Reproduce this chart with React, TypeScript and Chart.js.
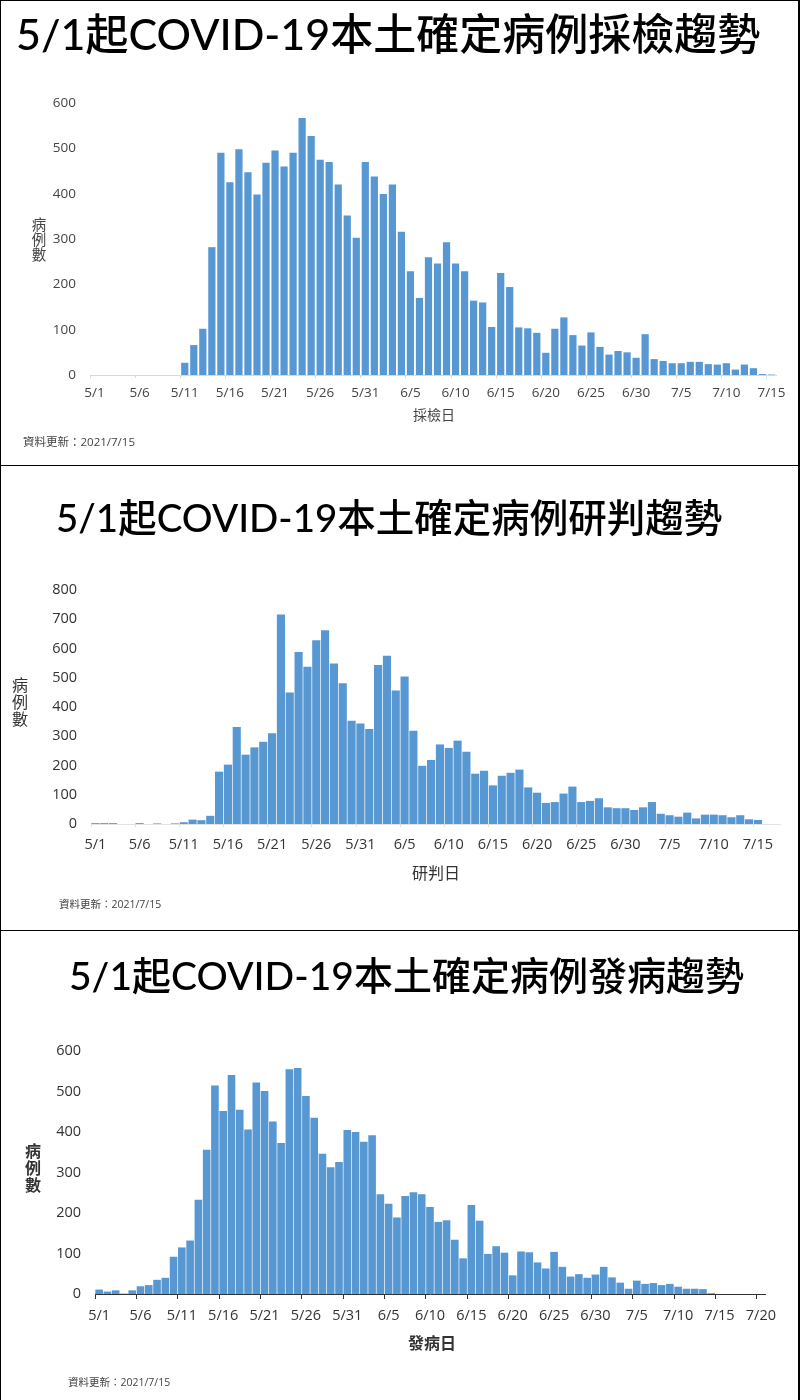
import React, { useEffect, useRef } from 'react';
import { Chart, registerables } from 'chart.js';

Chart.register(...registerables);

const dates = [
  '5/1', '5/2', '5/3', '5/4', '5/5', '5/6', '5/7', '5/8', '5/9', '5/10',
  '5/11', '5/12', '5/13', '5/14', '5/15', '5/16', '5/17', '5/18', '5/19', '5/20',
  '5/21', '5/22', '5/23', '5/24', '5/25', '5/26', '5/27', '5/28', '5/29', '5/30', '5/31',
  '6/1', '6/2', '6/3', '6/4', '6/5', '6/6', '6/7', '6/8', '6/9', '6/10',
  '6/11', '6/12', '6/13', '6/14', '6/15', '6/16', '6/17', '6/18', '6/19', '6/20',
  '6/21', '6/22', '6/23', '6/24', '6/25', '6/26', '6/27', '6/28', '6/29', '6/30',
  '7/1', '7/2', '7/3', '7/4', '7/5', '7/6', '7/7', '7/8', '7/9', '7/10',
  '7/11', '7/12', '7/13', '7/14', '7/15', '7/16', '7/17', '7/18', '7/19', '7/20',
];

// 採檢日
const samplingCases = [
  0, 0, 0, 0, 0, 0, 0, 0, 0, 0,
  27, 66, 102, 282, 490, 425, 498, 447, 398, 468,
  495, 460, 490, 567, 527, 475, 470, 420, 352, 303, 470,
  438, 399, 420, 316, 229, 170, 260, 246, 293, 246,
  229, 164, 160, 106, 225, 194, 105, 103, 93, 49,
  102, 127, 88, 65, 94, 62, 45, 53, 50, 38,
  90, 35, 31, 26, 26, 29, 29, 24, 23, 26,
  12, 23, 15, 2, 1,
];

// 研判日
const reviewCases = [
  3, 3, 3, 0, 0, 3, 0, 2, 0, 2,
  6, 15, 13, 28, 179, 203, 332, 237, 262, 281,
  310, 716, 450, 588, 538, 628, 662, 549, 481, 353, 344,
  325, 544, 575, 456, 504, 319, 199, 219, 272, 260,
  285, 247, 172, 182, 132, 165, 175, 186, 125, 107,
  72, 75, 104, 128, 75, 79, 88, 57, 54, 54,
  48, 57, 75, 35, 30, 25, 39, 19, 32, 32,
  30, 23, 30, 16, 14, 0, 0,
];

// 發病日
const onsetCases = [
  11, 6, 9, 1, 9, 19, 22, 35, 40, 92,
  115, 132, 233, 356, 515, 452, 541, 455, 406, 522,
  501, 426, 373, 555, 558, 489, 435, 346, 313, 326, 405,
  400, 376, 392, 246, 223, 189, 242, 251, 246, 215,
  178, 182, 134, 88, 220, 181, 99, 118, 102, 46,
  105, 103, 78, 63, 104, 67, 43, 49, 40, 48,
  67, 41, 28, 13, 33, 25, 27, 22, 25, 18,
  13, 13, 12, 2, 0, 0, 0, 0, 0, 0,
];

const CJK = '"Noto Sans CJK TC", sans-serif';
const TEXT_FONT = `"Open Sans", ${CJK}`;
const TITLE_FONT = `Lato, ${CJK}`;
const BAR_COLOR = '#5797d2';

const panels = [
  {
    top: 0, height: 465, values: samplingCases, yMax: 600, yStep: 100, barPct: 0.8,
    axisLeft: 90, axisRight: 776, axisTop: 103, axisBottom: 375,
    tickFont: 13.5, tickPad: 7, tickLen: 3, axisColor: '#d9d9d9', textColor: '#444',
    title: '5/1起COVID-19本土確定病例採檢趨勢', titleSize: 43, titleX: 15, titleY: 30,
    xTitle: '採檢日', xTitleX: 433, xTitleY: 413, xTitleSize: 14, xTitleWeight: 400,
    yTitleX: 38, yTitleY: 238, yTitleSize: 14.5, footX: 22, footY: 440, footSize: 11.5,
  },
  {
    top: 465, height: 465, values: reviewCases, yMax: 800, yStep: 100, barPct: 0.92,
    axisLeft: 91, axisRight: 780, axisTop: 125, axisBottom: 359,
    tickFont: 14.5, tickPad: 9, tickLen: 3, axisColor: '#e3e3e3', textColor: '#333',
    title: '5/1起COVID-19本土確定病例研判趨勢', titleSize: 38.5, titleX: 55, titleY: 49,
    xTitle: '研判日', xTitleX: 435, xTitleY: 406, xTitleSize: 16, xTitleWeight: 400,
    yTitleX: 19, yTitleY: 235, yTitleSize: 16, footX: 58, footY: 437, footSize: 10.5,
  },
  {
    top: 930, height: 470, values: onsetCases, yMax: 600, yStep: 100, barPct: 0.92,
    axisLeft: 95, axisRight: 765, axisTop: 121, axisBottom: 364,
    tickFont: 14.5, tickPad: 8, tickLen: 5, axisColor: '#333', textColor: '#333',
    title: '5/1起COVID-19本土確定病例發病趨勢', titleSize: 39, titleX: 68, titleY: 42,
    xTitle: '發病日', xTitleX: 431, xTitleY: 411, xTitleSize: 16, xTitleWeight: 700,
    yTitleX: 32, yTitleY: 236, yTitleSize: 16, footX: 67, footY: 450, footSize: 10.5,
  },
];

type PanelProps = (typeof panels)[number];

function Panel(p: PanelProps) {
  const canvasRef = useRef<HTMLCanvasElement | null>(null);

  useEffect(() => {
    if (!canvasRef.current) return;
    const chart = new Chart(canvasRef.current, {
      type: 'bar',
      data: {
        labels: dates.slice(0, p.values.length),
        datasets: [
          { data: p.values, backgroundColor: BAR_COLOR, barPercentage: p.barPct, categoryPercentage: 1 },
        ],
      },
      options: {
        responsive: false,
        animation: false,
        layout: { padding: { top: p.axisTop, right: 800 - p.axisRight, left: 0, bottom: 0 } },
        plugins: { legend: { display: false }, tooltip: { enabled: false } },
        scales: {
          x: {
            offset: true,
            afterFit: (scale: any) => { scale.height = p.height - p.axisBottom; },
            grid: {
              offset: true,
              drawOnChartArea: false,
              tickLength: p.tickLen,
              tickColor: (ctx: any) => (ctx.index % 5 === 0 ? p.axisColor : 'transparent'),
            },
            border: { color: p.axisColor },
            ticks: {
              autoSkip: false,
              maxRotation: 0,
              minRotation: 0,
              padding: p.tickPad,
              color: p.textColor,
              font: { family: TEXT_FONT, size: p.tickFont },
              // a label every 5 days
              callback: (_v: any, i: number) => (i % 5 === 0 ? dates[i] : ''),
            },
          },
          y: {
            min: 0,
            max: p.yMax,
            afterFit: (scale: any) => { scale.width = p.axisLeft; },
            grid: { display: false },
            border: { display: false },
            ticks: {
              stepSize: p.yStep,
              padding: 6,
              color: p.textColor,
              font: { family: TEXT_FONT, size: p.tickFont },
            },
          },
        },
      },
    });
    return () => chart.destroy();
  }, []);

  const place = (x: number, y: number): React.CSSProperties => ({
    position: 'absolute',
    left: x,
    top: y,
    transform: 'translateY(-50%)',
    whiteSpace: 'nowrap',
  });

  return (
    <div
      style={{
        position: 'absolute',
        left: 0,
        top: p.top,
        width: 800,
        height: p.height,
        boxSizing: 'border-box',
        borderLeft: '1px solid #000',
        borderRight: '2px solid #000',
        borderTop: '1px solid #000',
        background: '#fff',
      }}
    >
      <canvas
        ref={canvasRef}
        width={800}
        height={p.height}
        style={{ position: 'absolute', left: -1, top: -1, display: 'block' }}
      />
      <div style={{ ...place(p.titleX, p.titleY), fontFamily: TITLE_FONT, fontSize: p.titleSize, fontWeight: 500, color: '#000' }}>
        {p.title}
      </div>
      <div
        style={{
          ...place(p.yTitleX, p.yTitleY),
          transform: 'translate(-50%, -50%)',
          fontFamily: CJK,
          fontSize: p.yTitleSize,
          fontWeight: p.xTitleWeight,
          lineHeight: 1.05,
          color: p.textColor,
          textAlign: 'center',
        }}
      >
        病<br />例<br />數
      </div>
      <div
        style={{
          ...place(p.xTitleX, p.xTitleY),
          transform: 'translate(-50%, -50%)',
          fontFamily: CJK,
          fontSize: p.xTitleSize,
          fontWeight: p.xTitleWeight,
          color: p.textColor,
        }}
      >
        {p.xTitle}
      </div>
      <div style={{ ...place(p.footX, p.footY), fontFamily: TEXT_FONT, fontSize: p.footSize, color: '#444' }}>
        資料更新：2021/7/15
      </div>
    </div>
  );
}

export default function App() {
  return (
    <div style={{ position: 'absolute', left: 0, top: 0, width: 800, height: 1400 }}>
      {panels.map(p => (
        <Panel key={p.title} {...p} />
      ))}
    </div>
  );
}
